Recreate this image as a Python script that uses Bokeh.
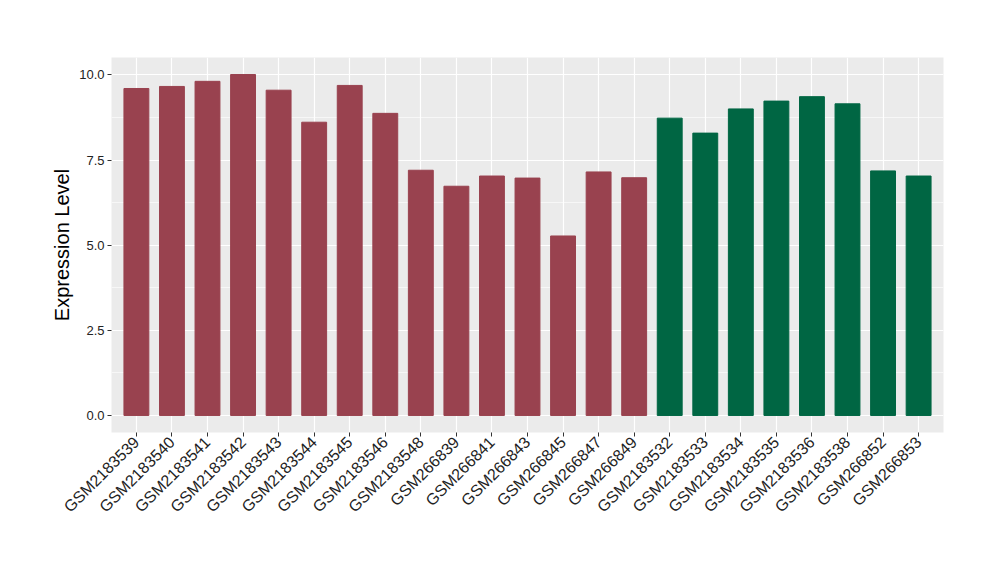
import math
from bokeh.plotting import figure
from bokeh.models import FactorRange, Range1d, FixedTicker, ColumnDataSource
from bokeh.embed import file_html
from bokeh.resources import INLINE

samples = ["GSM2183539", "GSM2183540", "GSM2183541", "GSM2183542", "GSM2183543",
           "GSM2183544", "GSM2183545", "GSM2183546", "GSM2183548", "GSM266839",
           "GSM266841", "GSM266843", "GSM266845", "GSM266847", "GSM266849",
           "GSM2183532", "GSM2183533", "GSM2183534", "GSM2183535", "GSM2183536",
           "GSM2183538", "GSM266852", "GSM266853"]
values = [9.60, 9.66, 9.81, 10.01, 9.55, 8.61, 9.69, 8.87, 7.20, 6.73,
          7.03, 6.97, 5.27, 7.15, 6.98,
          8.73, 8.29, 9.00, 9.23, 9.36, 9.15, 7.18, 7.03]
groups = ["A"] * 15 + ["B"] * 8
group_colors = {"A": "#99424F", "B": "#006643"}
y_ticks = [0, 2.5, 5, 7.5, 10]
y_minor = [1.25, 3.75, 6.25, 8.75]

src = ColumnDataSource(dict(x=samples, top=values,
                            color=[group_colors[g] for g in groups]))

p = figure(width=984, height=564, output_backend="svg", toolbar_location=None,
           x_range=FactorRange(*samples, range_padding=0.2, range_padding_units="absolute"),
           y_range=Range1d(-0.5, 10.51),
           min_border_left=111, min_border_right=41, min_border_top=57, min_border_bottom=132)

p.vbar(x="x", top="top", bottom=0, width=0.7, color="color", source=src)

p.background_fill_color = "#EBEBEB"
p.border_fill_color = "white"
p.outline_line_color = None

p.yaxis.ticker = FixedTicker(ticks=y_ticks, minor_ticks=y_minor)
p.yaxis.major_label_overrides = {0: "0.0", 2.5: "2.5", 5: "5.0", 7.5: "7.5", 10: "10.0"}
p.ygrid.grid_line_color = "white"
p.ygrid.grid_line_width = 1.2
p.ygrid.minor_grid_line_color = "white"
p.ygrid.minor_grid_line_width = 0.6
p.xgrid.grid_line_color = "white"
p.xgrid.grid_line_width = 1.2

for ax in (p.xaxis, p.yaxis):
    ax.axis_line_color = None
    ax.major_tick_in = 0
    ax.major_tick_out = 4
    ax.major_tick_line_color = "#333333"
    ax.minor_tick_line_color = None
    ax.major_label_text_font = "Liberation Sans"
    ax.major_label_text_color = "#222222"
    ax.major_label_standoff = 3

p.yaxis.major_label_text_font_size = "13px"
p.xaxis.major_label_text_font_size = "16px"
p.xaxis.major_label_orientation = math.pi / 4

p.yaxis.axis_label = "Expression Level"
p.yaxis.axis_label_text_font = "Liberation Sans"
p.yaxis.axis_label_text_font_size = "20px"
p.yaxis.axis_label_text_font_style = "normal"
p.yaxis.axis_label_text_color = "#000000"
p.yaxis.axis_label_standoff = 3

open("out.html", "w").write(file_html(p, INLINE))
